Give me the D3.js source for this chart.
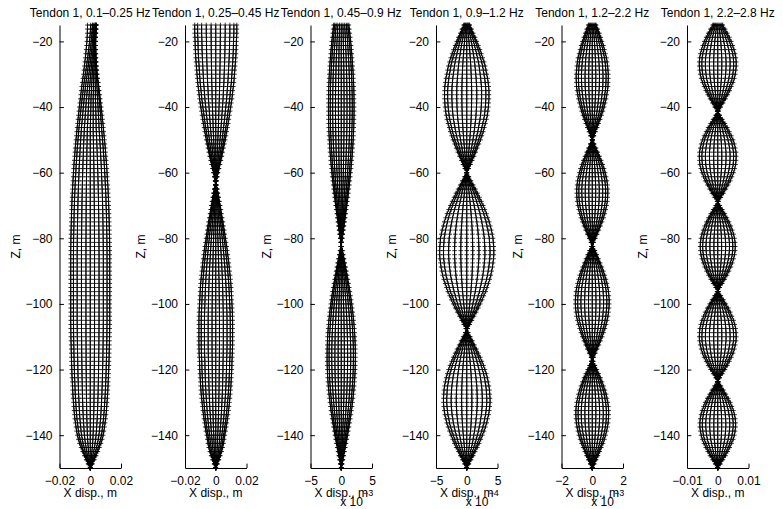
<!DOCTYPE html>
<html>
<head>
<meta charset="utf-8">
<script src="https://cdn.jsdelivr.net/npm/d3@7"></script>
<style>
  body { margin: 0; background: #fff; }
  text { font-family: "Liberation Sans", Arial, Helvetica, sans-serif; fill: #000; }
</style>
</head>
<body>
<svg id="fig" width="783" height="509"></svg>
<script>
// Tendon 1 lateral mode shapes, one panel per frequency band.
// Node depths along the tendon (m), seabed (-150) to top connector (-15).
const depth = [
  -150,-148.75,-147.5,-146.25,-145,-143.75,-142.5,-141.25,
  -140,-138.75,-137.5,-136.25,-135,-133.75,-132.5,-131.25,
  -130,-128.75,-127.5,-126.25,-125,-123.75,-122.5,-121.25,
  -120,-118.75,-117.5,-116.25,-115,-113.75,-112.5,-111.25,
  -110,-108.75,-107.5,-106.25,-105,-103.75,-102.5,-101.25,
  -100,-98.75,-97.5,-96.25,-95,-93.75,-92.5,-91.25,
  -90,-88.75,-87.5,-86.25,-85,-83.75,-82.5,-81.25,
  -80,-78.75,-77.5,-76.25,-75,-73.75,-72.5,-71.25,
  -70,-68.75,-67.5,-66.25,-65,-63.75,-62.5,-61.25,
  -60,-58.75,-57.5,-56.25,-55,-53.75,-52.5,-51.25,
  -50,-48.75,-47.5,-46.25,-45,-43.75,-42.5,-41.25,
  -40,-38.75,-37.5,-36.25,-35,-33.75,-32.5,-31.25,
  -30,-28.75,-27.5,-26.25,-25,-23.75,-22.5,-21.25,
  -20,-18.75,-17.5,-16.25,-15];

const bandTitles = [
  "Tendon 1, 0.1\u20130.25 Hz",
  "Tendon 1, 0.25\u20130.45 Hz",
  "Tendon 1, 0.45\u20130.9 Hz",
  "Tendon 1, 0.9\u20131.2 Hz",
  "Tendon 1, 1.2\u20132.2 Hz",
  "Tendon 1, 2.2\u20132.8 Hz"
];

// x-axis half ranges (m), tick labels and exponent labels
const xHalfRange = [0.02, 0.02, 5e-3, 5e-4, 2e-3, 0.01];
const xTickText = [
  ["\u22120.02", "0", "0.02"],
  ["\u22120.02", "0", "0.02"],
  ["\u22125", "0", "5"],
  ["\u22125", "0", "5"],
  ["\u22122", "0", "2"],
  ["\u22120.01", "0", "0.01"]
];
const xExponent = ["", "", "\u22123", "\u22124", "\u22123", ""];
const yTicks = [-140, -120, -100, -80, -60, -40, -20];

// peak displacement of each band (mm)
const peakMm = [12.7, 13.7, 2.3, 0.44, 1.1, 6.0];

// normalised in-phase mode shape of each band, sampled at depth[]
const shapeBand1 = [
  0,.11,.21,.30,.39,.47,.55,.61,
  .66,.70,.73,.76,.79,.81,.83,.845,
  .86,.875,.89,.90,.91,.92,.93,.94,
  .945,.953,.96,.965,.97,.975,.98,.985,
  .99,.993,.995,.998,1,1,1,1,
  1,1,1,1,1,1,1,1,
  1,1,1,1,1,.998,.995,.993,
  .99,.985,.98,.975,.97,.965,.96,.953,
  .945,.938,.93,.92,.91,.898,.885,.873,
  .86,.848,.835,.818,.80,.785,.77,.75,
  .73,.71,.69,.67,.65,.628,.605,.583,
  .56,.535,.51,.485,.46,.435,.41,.38,
  .35,.325,.30,.275,.25,.23,.21,.19,
  .17,.16,.15,.145,.14];
const shapeBand2 = [
  0,-.08,-.15,-.22,-.28,-.33,-.37,-.40,
  -.43,-.47,-.50,-.53,-.56,-.585,-.61,-.63,
  -.65,-.67,-.69,-.705,-.72,-.73,-.74,-.75,
  -.76,-.765,-.77,-.78,-.79,-.795,-.80,-.80,
  -.80,-.80,-.80,-.80,-.80,-.795,-.79,-.78,
  -.77,-.76,-.75,-.74,-.73,-.715,-.70,-.68,
  -.66,-.64,-.62,-.595,-.57,-.545,-.52,-.49,
  -.46,-.43,-.40,-.37,-.34,-.305,-.27,-.24,
  -.21,-.175,-.14,-.105,-.07,-.02,.03,.07,
  .11,.155,.20,.245,.29,.33,.37,.41,
  .45,.485,.52,.555,.59,.62,.65,.68,
  .71,.74,.77,.79,.81,.835,.86,.875,
  .89,.905,.92,.935,.95,.96,.97,.975,
  .98,.99,1.0,1.0,1.0];
const shapeBand3 = [
  0,-.058,-.115,-.172,-.229,-.285,-.340,-.393,
  -.446,-.497,-.546,-.593,-.639,-.682,-.723,-.762,
  -.798,-.831,-.862,-.890,-.915,-.937,-.955,-.971,
  -.983,-.992,-.998,-1.0,-.999,-.995,-.987,-.976,
  -.962,-.944,-.924,-.900,-.874,-.844,-.812,-.777,
  -.739,-.699,-.657,-.612,-.566,-.516,-.466,-.414,
  -.361,-.307,-.251,-.195,-.138,-.081,-.023,.025,
  .068,.110,.152,.193,.234,.275,.315,.354,
  .393,.431,.467,.503,.538,.571,.604,.635,
  .664,.692,.718,.743,.767,.788,.809,.827,
  .843,.858,.871,.882,.891,.898,.902,.905,
  .906,.905,.902,.898,.891,.882,.871,.858,
  .843,.827,.809,.788,.767,.743,.718,.692,
  .664,.635,.604,.571,.538];
const shapeBand4 = [
  0,.08,.16,.24,.31,.39,.46,.52,
  .58,.64,.69,.74,.77,.81,.83,.85,
  .86,.86,.85,.84,.82,.79,.76,.72,
  .67,.62,.56,.50,.43,.36,.28,.21,
  .13,.05,-.03,-.11,-.19,-.27,-.35,-.43,
  -.50,-.57,-.63,-.70,-.75,-.80,-.85,-.89,
  -.92,-.95,-.97,-.99,-1.0,-1.0,-.995,-.98,
  -.97,-.94,-.91,-.87,-.83,-.78,-.73,-.67,
  -.61,-.54,-.47,-.40,-.32,-.24,-.16,-.08,
  0,.07,.14,.20,.27,.33,.39,.45,
  .51,.56,.61,.65,.69,.73,.76,.78,
  .80,.81,.82,.82,.82,.81,.79,.77,
  .74,.71,.68,.64,.59,.54,.49,.43,
  .37,.31,.24,.18,.11];
const shapeBand5 = [
  0,.12,.23,.34,.44,.54,.64,.72,
  .79,.85,.90,.94,.96,.97,.97,.95,
  .92,.87,.82,.75,.67,.58,.49,.38,
  .27,.16,.05,-.07,-.18,-.29,-.39,-.49,
  -.59,-.67,-.75,-.82,-.88,-.93,-.96,-.99,
  -1.0,-1.0,-.98,-.96,-.92,-.87,-.81,-.74,
  -.66,-.57,-.47,-.37,-.27,-.16,-.04,.07,
  .18,.29,.39,.49,.58,.67,.74,.80,
  .85,.89,.91,.92,.92,.90,.87,.82,
  .76,.70,.62,.53,.43,.33,.22,.11,
  0,-.10,-.19,-.29,-.38,-.47,-.55,-.63,
  -.70,-.76,-.82,-.86,-.90,-.93,-.94,-.95,
  -.95,-.93,-.91,-.88,-.84,-.78,-.72,-.66,
  -.58,-.50,-.42,-.33,-.23];
const shapeBand6 = [
  0,.14,.28,.42,.54,.65,.75,.84,
  .90,.94,.97,.97,.95,.91,.85,.77,
  .68,.57,.44,.31,.17,.03,-.11,-.25,
  -.39,-.52,-.63,-.74,-.83,-.90,-.95,-.99,
  -1.0,-.99,-.97,-.92,-.86,-.77,-.68,-.57,
  -.44,-.31,-.17,-.03,.11,.25,.38,.50,
  .61,.71,.79,.86,.91,.94,.95,.94,
  .91,.86,.79,.71,.61,.50,.38,.25,
  .11,-.03,-.17,-.31,-.44,-.56,-.68,-.77,
  -.86,-.92,-.97,-.99,-1.0,-.99,-.95,-.90,
  -.83,-.74,-.63,-.52,-.39,-.25,-.11,.03,
  .16,.29,.42,.54,.65,.74,.83,.90,
  .95,.98,1.0,1.0,.98,.94,.88,.81,
  .73,.63,.52,.40,.27];

// quadrature part of band 1 near the top connector: [depth, value]
const quadBand1 = [
  [-45,.01],[-43.75,.015],[-42.5,.02],[-41.25,.025],[-40,.03],[-38.75,.035],
  [-37.5,.04],[-36.25,.05],[-35,.06],[-33.75,.07],[-32.5,.08],[-31.25,.09],
  [-30,.10],[-28.75,.115],[-27.5,.13],[-26.25,.145],[-25,.16],[-23.75,.175],
  [-22.5,.19],[-21.25,.205],[-20,.22],[-18.75,.235],[-17.5,.25],[-16.25,.265],
  [-15,.28]];

const shapes = [shapeBand1, shapeBand2, shapeBand3, shapeBand4, shapeBand5, shapeBand6];
const quads = [quadBand1, [], [], [], [], []];

// snapshot weights over half a cycle (in-phase / quadrature)
const phaseCos = [1, 0.86, 0.67, 0.45, 0.22, 0, -0.22, -0.45, -0.67, -0.86, -1];
const phaseSin = [0, 0.51, 0.74, 0.89, 0.98, 1, 0.98, 0.89, 0.74, 0.51, 0];

// ---- layout ----
const svg = d3.select("#fig");
const axTop = 25, axBottom = 468, axWidth = 61.5;
const axLeft = [59.5, 185, 310.5, 436, 561.5, 687];
const tickLen = 4.4, markHalf = 2.3, fontPx = 12;

const y = d3.scaleLinear().domain([-150, -15]).range([axBottom, axTop]);

shapes.forEach((shape, k) => {
  const x0 = axLeft[k];
  const half = xHalfRange[k];
  const x = d3.scaleLinear().domain([-half, half]).range([x0, x0 + axWidth]);
  const g = svg.append("g");
  const quad = new Map(quads[k]);

  const line = d3.line().x(d => x(d.v)).y(d => y(d.z));

  phaseCos.forEach((c, j) => {
    const s = phaseSin[j];
    const pts = depth.map((z, i) => ({
      z,
      v: (c * shape[i] + s * (quad.get(z) || 0)) * peakMm[k] * 1e-3
    }));
    g.append("path")
      .attr("d", line(pts))
      .attr("fill", "none")
      .attr("stroke", "#000")
      .attr("stroke-width", 1);
    const marks = pts.map(p => {
      const px = x(p.v), py = y(p.z);
      return `M${px - markHalf},${py}H${px + markHalf}M${px},${py - markHalf}V${py + markHalf}`;
    }).join("");
    g.append("path")
      .attr("d", marks)
      .attr("fill", "none")
      .attr("stroke", "#000")
      .attr("stroke-width", 0.8);
  });

  // axes (ticks pointing inwards, no box)
  const yAxis = d3.axisLeft(y)
    .tickValues(yTicks)
    .tickFormat(d => d < 0 ? "\u2212" + Math.abs(d) : String(d))
    .tickSizeInner(-tickLen)
    .tickSizeOuter(0)
    .tickPadding(7);
  const ya = svg.append("g").attr("transform", `translate(${x0},0)`).call(yAxis);

  const xAxis = d3.axisBottom(x)
    .tickValues([-half, 0, half])
    .tickFormat((d, i) => xTickText[k][i])
    .tickSizeInner(-tickLen)
    .tickSizeOuter(0)
    .tickPadding(8);
  const xa = svg.append("g").attr("transform", `translate(0,${axBottom})`).call(xAxis);

  [ya, xa].forEach(a => {
    a.select(".domain").attr("stroke", "#000").attr("stroke-width", 1);
    a.selectAll(".tick line").attr("stroke", "#000").attr("stroke-width", 1);
    a.selectAll(".tick text").attr("font-size", fontPx).attr("fill", "#000")
      .attr("font-family", "Liberation Sans, Arial, sans-serif");
  });

  const cx = x0 + axWidth / 2;
  svg.append("text")
    .attr("x", cx).attr("y", 16.5)
    .attr("text-anchor", "middle")
    .attr("font-size", fontPx)
    .text(bandTitles[k]);

  svg.append("text")
    .attr("x", cx).attr("y", 497)
    .attr("text-anchor", "middle")
    .attr("font-size", fontPx)
    .text("X disp., m");

  svg.append("text")
    .attr("transform", `translate(${x0 - 40},${(axTop + axBottom) / 2}) rotate(-90)`)
    .attr("text-anchor", "middle")
    .attr("font-size", fontPx)
    .text("Z, m");

  if (xExponent[k]) {
    const t = svg.append("text")
      .attr("x", cx - 1).attr("y", 506)
      .attr("font-size", fontPx);
    t.append("tspan").text("x 10");
    t.append("tspan").attr("dy", -10).attr("font-size", 9).text(xExponent[k]);
  }
});
</script>
</body>
</html>
